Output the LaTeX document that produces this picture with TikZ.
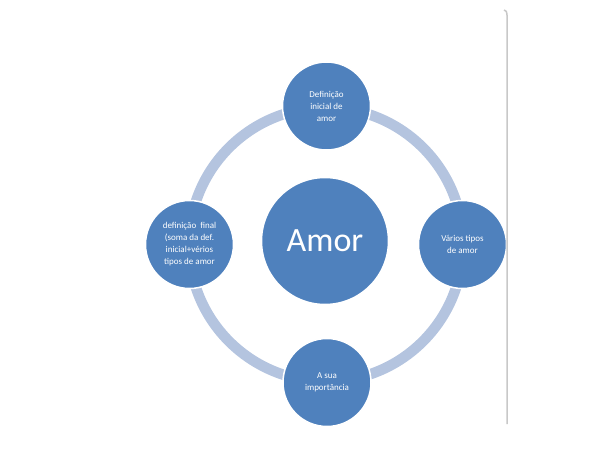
\documentclass[tikz,border=0pt]{standalone}
\usepackage{fontspec}
\setmainfont{Carlito}
\definecolor{amorblue}{RGB}{79,129,189}
\definecolor{ringblue}{RGB}{180,196,223}
\definecolor{rulegray}{RGB}{200,200,200}
\begin{document}
\begin{tikzpicture}[x=1pt, y=-1pt,
  bubble/.style={circle, fill=amorblue, draw=white, line width=1.5pt, minimum size=88pt, inner sep=0pt,
    text=white, align=center, font=\fontsize{9}{12}\selectfont},
  hub/.style={circle, fill=amorblue, draw=white, line width=1.5pt, minimum size=127pt, inner sep=0pt,
    text=white, font=\fontsize{34}{40}\selectfont},
  ring/.style={line width=10.5pt, ringblue}]
  \useasboundingbox (0,0) rectangle (614,460);
  \coordinate (c) at (326,244.5);
  \draw[ring] (c) circle[radius=137];
  \node[hub] (amor) at (325,241) {Amor};
  \node[bubble] (top) at (326.5,106) {Definição\\inicial de\\amor};
  \node[bubble] (right) at (462.5,244.5) {Vários tipos\\de amor};
  \node[bubble] (bottom) at (327,382.5) {A sua\\importância};
  \node[bubble] (left) at (189.5,244.5) {definição~~final\\(soma da def.\\inicial+vérios\\tipos de amor};
  % side rule
  \draw[rulegray, line width=1.5pt] (504,10) .. controls (506.5,11) .. (507,15) -- (507,424);
\end{tikzpicture}
\end{document}
